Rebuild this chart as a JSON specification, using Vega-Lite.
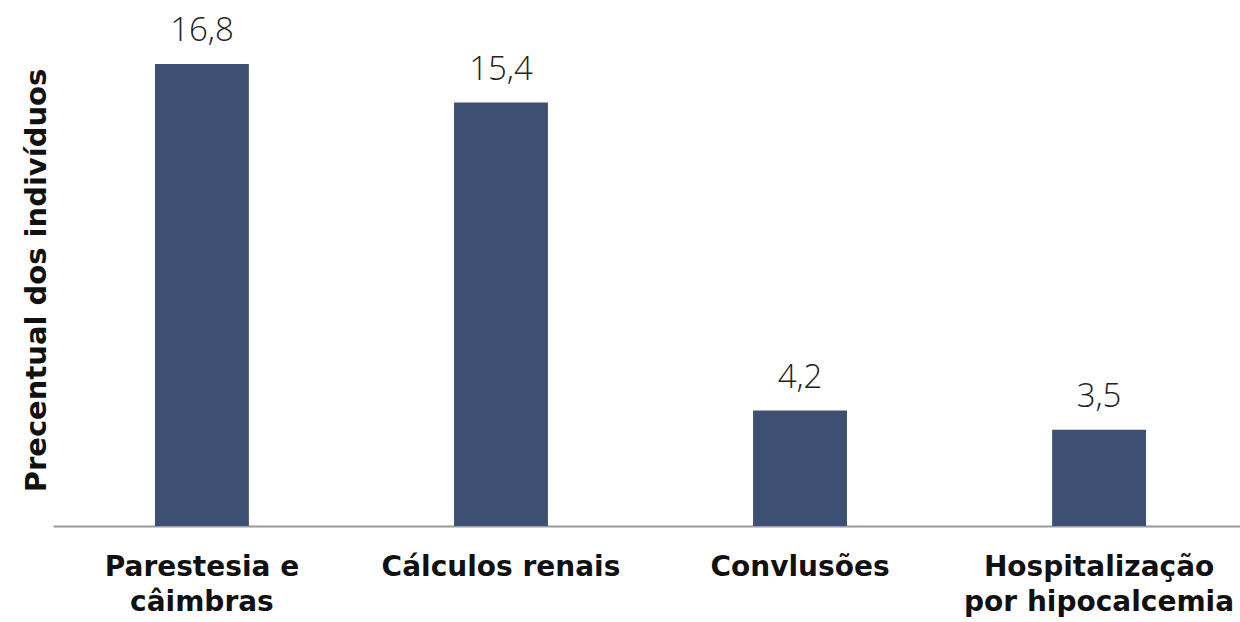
{
  "$schema": "https://vega.github.io/schema/vega-lite/v6.json",
  "autosize": {"type": "none"},
  "width": 1195,
  "height": 495,
  "padding": {"left": 53, "top": 31, "right": 0, "bottom": 96},
  "background": "white",
  "config": {
    "view": {"stroke": null},
    "locale": {"number": {"decimal": ",", "thousands": ".", "grouping": [3], "currency": ["R$", ""]}},
    "font": "DejaVu Sans"
  },
  "data": {
    "values": [
      {"categoria": "Parestesia e|câimbras", "percentual": 16.8},
      {"categoria": "Cálculos renais", "percentual": 15.4},
      {"categoria": "Convlusões", "percentual": 4.2},
      {"categoria": "Hospitalização|por hipocalcemia", "percentual": 3.5}
    ]
  },
  "encoding": {
    "x": {
      "field": "categoria",
      "type": "nominal",
      "sort": null,
      "scale": {"paddingInner": 0.686, "paddingOuter": 0.341},
      "axis": {
        "title": null,
        "labelAngle": 0,
        "labelExpr": "split(datum.value, '|')",
        "labelFont": "DejaVu Sans",
        "labelFontWeight": "bold",
        "labelFontSize": 28,
        "labelLineHeight": 35,
        "labelLimit": 0,
        "labelColor": "#111111",
        "labelPadding": 27,
        "labelBaseline": "top",
        "ticks": false,
        "domainColor": "#999999",
        "domainWidth": 2,
        "grid": false
      }
    },
    "y": {
      "field": "percentual",
      "type": "quantitative",
      "scale": {"domain": [0, 18], "nice": false},
      "axis": {
        "title": "Precentual dos indivíduos",
        "titleFont": "DejaVu Sans",
        "titleFontWeight": "bold",
        "titleFontSize": 29,
        "titleColor": "#111111",
        "titlePadding": 2,
        "titleY": 249,
        "labels": false,
        "ticks": false,
        "domain": false,
        "grid": false
      }
    }
  },
  "layer": [
    {"mark": {"type": "bar", "color": "#3d5073"}},
    {
      "mark": {"type": "text", "baseline": "bottom", "dy": -16, "fontSize": 33, "fontWeight": 300, "color": "#222222", "font": "Open Sans"},
      "encoding": {"text": {"field": "percentual", "type": "quantitative", "format": ".1f"}}
    }
  ]
}
